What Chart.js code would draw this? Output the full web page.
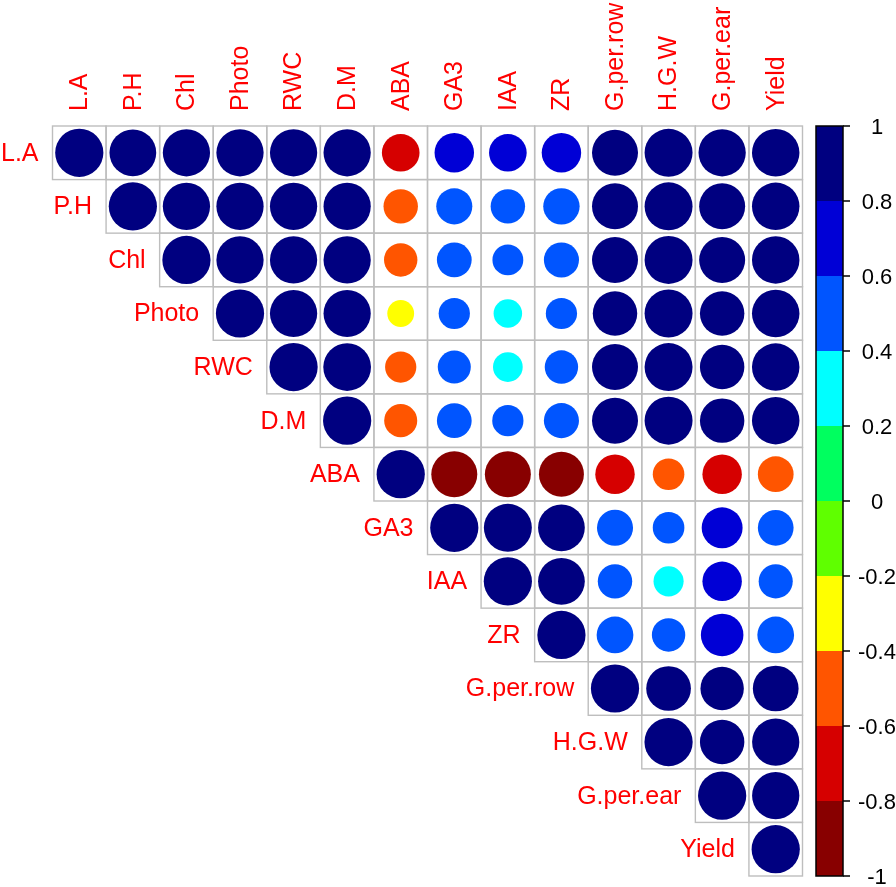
<!DOCTYPE html>
<html lang="en">
<head>
    <meta charset="UTF-8">
    <title>Correlation plot</title>
    <style>
        body {
            margin: 0;
            padding: 0;
            background: #fff;
        }
        #wrap {
            position: relative;
            width: 896px;
            height: 887px;
        }
    </style>
    <script src="https://cdn.jsdelivr.net/npm/chart.js"></script>
</head>
<body>
    <div id="wrap"><canvas id="corrChart"></canvas></div>

    <script>
        // variables (row / column order)
        const variables = ['L.A', 'P.H', 'Chl', 'Photo', 'RWC', 'D.M', 'ABA', 'GA3', 'IAA', 'ZR',
            'G.per.row', 'H.G.W', 'G.per.ear', 'Yield'];

        // upper triangle, each row starts at the diagonal
        const upper = [
            [1, 0.94, 0.96, 0.96, 0.96, 0.96, -0.61, 0.67, 0.61, 0.67, 0.91, 0.99, 0.96, 0.97],
            [1, 0.96, 0.96, 0.96, 0.96, -0.51, 0.56, 0.51, 0.57, 0.91, 0.99, 0.91, 0.97],
            [1, 0.96, 0.96, 0.96, -0.48, 0.52, 0.41, 0.53, 0.91, 0.99, 0.91, 0.97],
            [1, 0.96, 0.96, -0.31, 0.42, 0.35, 0.42, 0.85, 0.99, 0.85, 0.97],
            [1, 0.98, -0.42, 0.47, 0.38, 0.48, 0.91, 0.99, 0.85, 0.97],
            [1, -0.47, 0.52, 0.42, 0.53, 0.91, 0.99, 0.85, 0.97],
            [1, -0.91, -0.91, -0.87, -0.67, -0.43, -0.67, -0.55],
            [1, 0.99, 0.94, 0.56, 0.43, 0.72, 0.55],
            [1, 0.94, 0.51, 0.39, 0.67, 0.50],
            [1, 0.58, 0.48, 0.78, 0.58],
            [1, 0.86, 0.81, 0.90],
            [1, 0.85, 0.96],
            [1, 0.96],
            [1]
        ];

        // colour legend
        const cbTicks = [-1, -0.8, -0.6, -0.4, -0.2, 0, 0.2, 0.4, 0.6, 0.8, 1];
        const cbLabels = ['-1', '-0.8', '-0.6', '-0.4', '-0.2', '0', '0.2', '0.4', '0.6', '0.8', '1'];
        const binColors = ['#880000', '#D60000', '#FF5500', '#FFFF00', '#5FFF00',
            '#00FF5F', '#00FFFF', '#0055FF', '#0000D6', '#000080'];

        const FONT = '"Liberation Sans", Arial, sans-serif';

        function colorFor(v) {
            let i = Math.floor((v + 1) / 0.2 + 1e-9);
            if (i > 9) i = 9;
            if (i < 0) i = 0;
            return binColors[i];
        }

        const points = [];
        upper.forEach((row, i) => {
            row.forEach((v, k) => {
                points.push({ x: i + k, y: i, v: v });
            });
        });

        // cell boxes, labels and colour bar
        const corrPlugin = {
            id: 'corrPlugin',
            beforeDatasetsDraw(chart) {
                const ctx = chart.ctx;
                const xs = chart.scales.x, ys = chart.scales.y;
                ctx.save();
                ctx.strokeStyle = '#BEBEBE';
                ctx.lineWidth = 1.4;
                upper.forEach((row, i) => {
                    row.forEach((v, k) => {
                        const j = i + k;
                        const x0 = xs.getPixelForValue(j - 0.5), x1 = xs.getPixelForValue(j + 0.5);
                        const y0 = ys.getPixelForValue(i - 0.5), y1 = ys.getPixelForValue(i + 0.5);
                        ctx.strokeRect(x0, y0, x1 - x0, y1 - y0);
                    });
                });
                ctx.restore();
            },
            afterDatasetsDraw(chart) {
                const ctx = chart.ctx;
                const xs = chart.scales.x, ys = chart.scales.y, cb = chart.scales.cb;
                const area = chart.chartArea;
                ctx.save();
                ctx.fillStyle = '#FF0000';
                ctx.font = '25px ' + FONT;

                // column labels, vertical
                variables.forEach((name, j) => {
                    ctx.save();
                    ctx.translate(xs.getPixelForValue(j) + 1, area.top - 15);
                    ctx.rotate(-Math.PI / 2);
                    ctx.textAlign = 'left';
                    ctx.textBaseline = 'middle';
                    ctx.fillText(name, 0, 0);
                    ctx.restore();
                });

                // row labels, left of the diagonal
                ctx.textAlign = 'right';
                ctx.textBaseline = 'middle';
                variables.forEach((name, i) => {
                    const x = xs.getPixelForValue(i - 0.5) - 14;
                    ctx.fillText(name, x, ys.getPixelForValue(i) + 1);
                });

                // colour bar
                const left = area.right + 13.5;
                const w = 27;
                for (let b = 0; b < binColors.length; b++) {
                    const yTop = cb.getPixelForValue(cbTicks[b + 1]);
                    const yBot = cb.getPixelForValue(cbTicks[b]);
                    ctx.fillStyle = binColors[b];
                    ctx.fillRect(left, yTop, w, yBot - yTop);
                }
                ctx.strokeStyle = '#000';
                ctx.lineWidth = 1.5;
                const top = cb.getPixelForValue(1), bot = cb.getPixelForValue(-1);
                ctx.strokeRect(left, top, w, bot - top);

                ctx.fillStyle = '#000';
                ctx.font = '22px ' + FONT;
                ctx.textAlign = 'center';
                ctx.textBaseline = 'middle';
                cbTicks.forEach((t, n) => {
                    const y = cb.getPixelForValue(t);
                    ctx.beginPath();
                    ctx.moveTo(left + w, y);
                    ctx.lineTo(left + w + 7, y);
                    ctx.stroke();
                    ctx.fillText(cbLabels[n], left + w + 34, y + 2);
                });
                ctx.restore();
            }
        };

        const chart = new Chart(document.getElementById('corrChart'), {
            type: 'bubble',
            data: {
                datasets: [{
                    data: points,
                    borderWidth: 0,
                    clip: false,
                    backgroundColor: (c) => c.raw ? colorFor(c.raw.v) : '#000080'
                }]
            },
            options: {
                responsive: true,
                maintainAspectRatio: false,
                animation: false,
                events: [],
                layout: {
                    autoPadding: false,
                    padding: { left: 52.5, top: 126, right: 93.5, bottom: 11 }
                },
                plugins: {
                    legend: { display: false },
                    tooltip: { enabled: false }
                },
                scales: {
                    x: { type: 'linear', min: -0.5, max: 13.5, display: false },
                    y: { type: 'linear', min: -0.5, max: 13.5, reverse: true, display: false },
                    cb: { type: 'linear', axis: 'y', min: -1, max: 1, display: false }
                }
            },
            plugins: [corrPlugin]
        });

        // circle area proportional to |r|, sized from the x scale's cell width
        const xs = chart.scales.x;
        const cell = Math.abs(xs.getPixelForValue(1) - xs.getPixelForValue(0));
        points.forEach(p => { p.r = 0.45 * cell * Math.sqrt(Math.abs(p.v)); });
        chart.update('none');
    </script>
</body>
</html>
